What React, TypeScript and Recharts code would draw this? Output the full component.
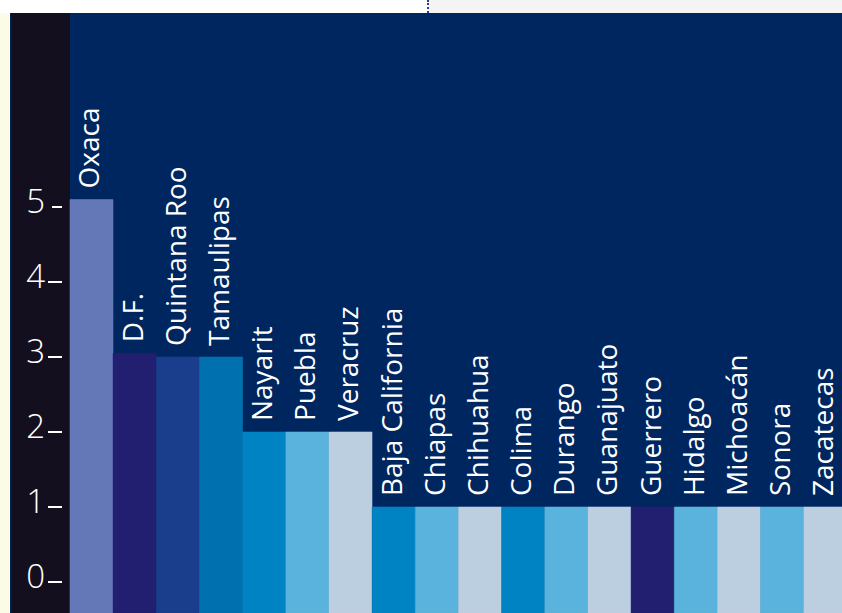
import React from 'react';
import {BarChart, Bar, XAxis, YAxis, Cell, LabelList} from 'recharts';

const states = ['Oxaca', 'D.F.', 'Quintana Roo', 'Tamaulipas', 'Nayarit', 'Puebla', 'Veracruz', 'Baja California', 'Chiapas', 'Chihuahua', 'Colima', 'Durango', 'Guanajuato', 'Guerrero', 'Hidalgo', 'Michoacán', 'Sonora', 'Zacatecas'];
const values = [5.1, 3.05, 3, 3, 2, 2, 2, 1, 1, 1, 1, 1, 1, 1, 1, 1, 1, 1];
const barColors = ['#6478b8', '#231f70', '#1a3e8c', '#0070ae', '#0083c2', '#5ab3dc', '#bccfe0', '#0083c2', '#5ab3dc', '#bccfe0', '#0083c2', '#5ab3dc', '#bccfe0', '#231f70', '#5ab3dc', '#bccfe0', '#5ab3dc', '#bccfe0'];
const yTicks = [0, 1, 2, 3, 4, 5];

const Y_MIN = -0.413;
const Y_MAX = 7.573;

const data = states.map((s, i) => ({state: s, value: values[i]}));

const FONT = '"Open Sans", "DejaVu Sans", sans-serif';

const YTick = (props: any) => {
    const {y, payload} = props;
    return (
        <g>
            <text x={45} y={y + 6} textAnchor="end" fill="#ffffff" fontSize={33} fontFamily={FONT} fontWeight={300}>
                {payload.value}
            </text>
            <line x1={payload.value === 5 ? 52 : 48} x2={62} y1={y} y2={y} stroke="#ffffff" strokeWidth={2}/>
        </g>
    );
};

const StateLabel = (props: any) => {
    const {x, y, width, value} = props;
    const lx = x + width / 2 + 8;
    const ly = y - 11;
    return (
        <text x={lx} y={ly} transform={`rotate(-90 ${lx} ${ly})`} fill="#ffffff" fontSize={28} fontFamily={FONT}>
            {value}
        </text>
    );
};

export default function App() {
    return (
        <div style={{position: 'fixed', top: 0, left: 0, width: 842, height: 613, overflow: 'hidden', background: '#ffffff'}}>
            {/* top strip */}
            <div style={{position: 'absolute', left: 428, top: 0, width: 414, height: 13, background: '#f4f4f4'}}/>
            <div style={{position: 'absolute', left: 427, top: 0, width: 2, height: 13, borderLeft: '2px dotted #2a3c92', boxSizing: 'border-box'}}/>
            {/* left strips */}
            <div style={{position: 'absolute', left: 0, top: 13, width: 10, height: 600, background: '#fcfbe6'}}/>
            <div style={{position: 'absolute', left: 10, top: 13, width: 1, height: 600, background: '#00265f'}}/>
            <div style={{position: 'absolute', left: 11, top: 13, width: 59, height: 600, background: '#140f1f'}}/>
            <div style={{position: 'absolute', left: 70, top: 13, width: 772, height: 600, background: '#00265f'}}/>
            <div style={{position: 'absolute', left: 0, top: 0}}>
                <BarChart width={847} height={613} data={data} margin={{top: 14, right: 0, bottom: 0, left: 10}} barCategoryGap={0}>
                    <XAxis dataKey="state" hide/>
                    <YAxis type="number" domain={[Y_MIN, Y_MAX]} ticks={yTicks} width={60} axisLine={false} tickLine={false} tick={<YTick/>} allowDataOverflow/>
                    <Bar dataKey={(d: any) => [Y_MIN, d.value]} isAnimationActive={false}>
                        {data.map((d, i) => (
                            <Cell key={d.state} fill={barColors[i]} stroke={barColors[i]} strokeWidth={0.6}/>
                        ))}
                        <LabelList dataKey="state" content={<StateLabel/>}/>
                    </Bar>
                </BarChart>
            </div>
        </div>
    );
}
